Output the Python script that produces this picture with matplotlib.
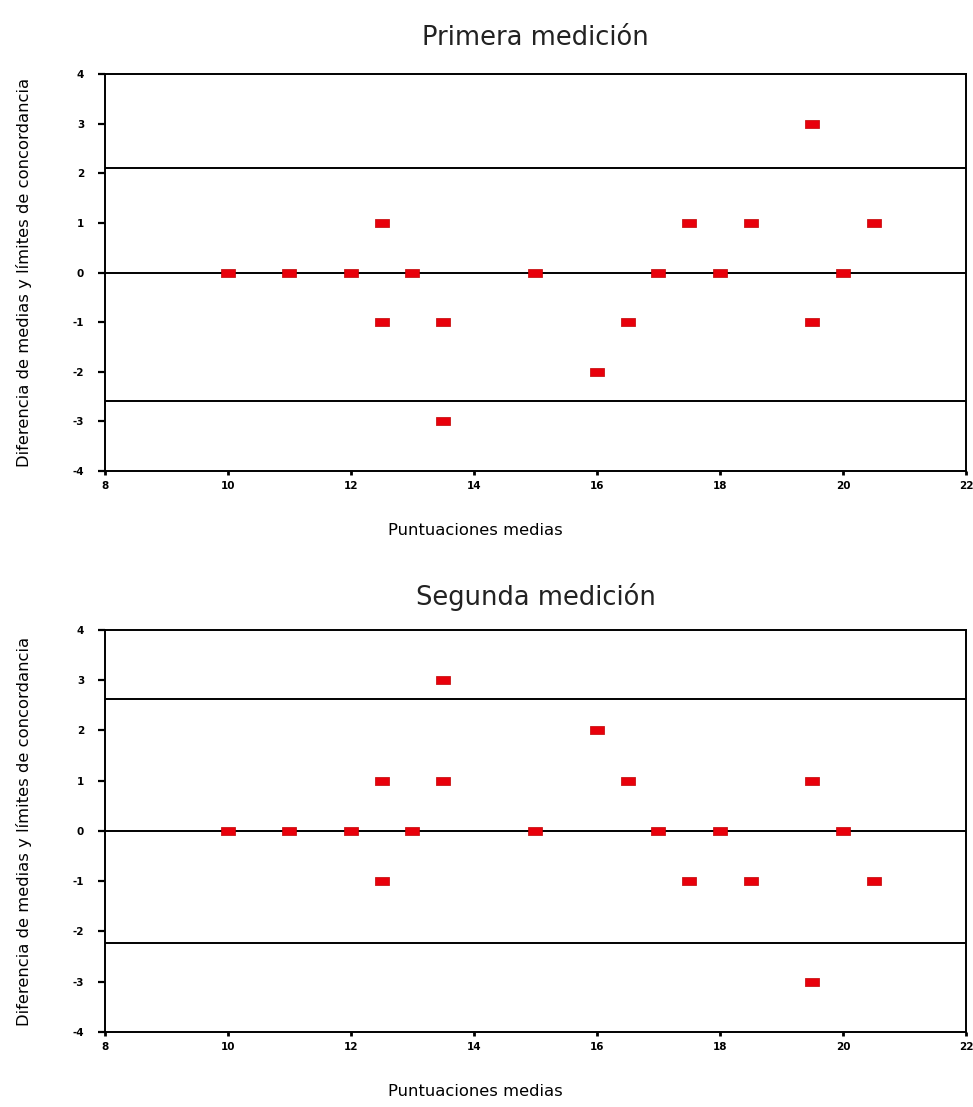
import matplotlib
matplotlib.use('Agg')
import matplotlib.pyplot as plt

plt.rcParams['axes.unicode_minus'] = False

# datos: puntuaciones medias (x) y diferencias (y)
x_primera = [10, 11, 12, 12.5, 12.5, 13, 13.5, 13.5, 15, 16, 16.5, 17, 17.5, 18, 18.5, 19.5, 19.5, 20, 20.5]
y_primera = [0, 0, 0, 1, -1, 0, -1, -3, 0, -2, -1, 0, 1, 0, 1, 3, -1, 0, 1]
limites_primera = [2.1, 0, -2.58]

x_segunda = [10, 11, 12, 12.5, 12.5, 13, 13.5, 13.5, 15, 16, 16.5, 17, 17.5, 18, 18.5, 19.5, 19.5, 20, 20.5]
y_segunda = [0, 0, 0, 1, -1, 0, 3, 1, 0, 2, 1, 0, -1, 0, -1, 1, -3, 0, -1]
limites_segunda = [2.62, 0, -2.22]

titulos = ['Primera medición', 'Segunda medición']
xticks = [8, 10, 12, 14, 16, 18, 20, 22]
yticks = [-4, -3, -2, -1, 0, 1, 2, 3, 4]

rect = [(-1, -0.55), (1, -0.55), (1, 0.55), (-1, 0.55), (-1, -0.55)]


def dibujar(ax, xs, ys, limites, titulo, pad_titulo):
    for lim in limites:
        ax.axhline(lim, color='black', lw=1.4, zorder=1)
    ax.plot(xs, ys, linestyle='none', marker=rect, markersize=10,
            color='#e8000b', markeredgecolor='#c00000', markeredgewidth=0.5, zorder=3)
    ax.set_xlim(8, 22)
    ax.set_ylim(-4, 4)
    ax.set_xticks(xticks)
    ax.set_yticks(yticks)
    ax.tick_params(axis='y', direction='out', length=5, width=1.6, labelsize=7.5, pad=10)
    ax.tick_params(axis='x', direction='out', length=3, width=2, labelsize=7.5, pad=4)
    for lab in ax.get_xticklabels() + ax.get_yticklabels():
        lab.set_fontweight('bold')
    for sp in ax.spines.values():
        sp.set_linewidth(1.4)
    ax.set_title(titulo, fontsize=18.5, pad=pad_titulo, color='#222222')
    ax.set_xlabel('Puntuaciones medias', fontsize=11.8)
    ax.xaxis.set_label_coords(0.43, -0.13)
    ax.set_ylabel('Diferencia de medias y límites de concordancia', fontsize=11.8, labelpad=29)


fig = plt.figure(figsize=(9.73, 11.07), dpi=100)
ax1 = fig.add_axes([0.1079, 0.5745, 0.8849, 0.3586])
ax2 = fig.add_axes([0.1079, 0.0678, 0.8849, 0.3631])

dibujar(ax1, x_primera, y_primera, limites_primera, titulos[0], 21)
dibujar(ax2, x_segunda, y_segunda, limites_segunda, titulos[1], 18)

fig.savefig('out.png', dpi=100)
